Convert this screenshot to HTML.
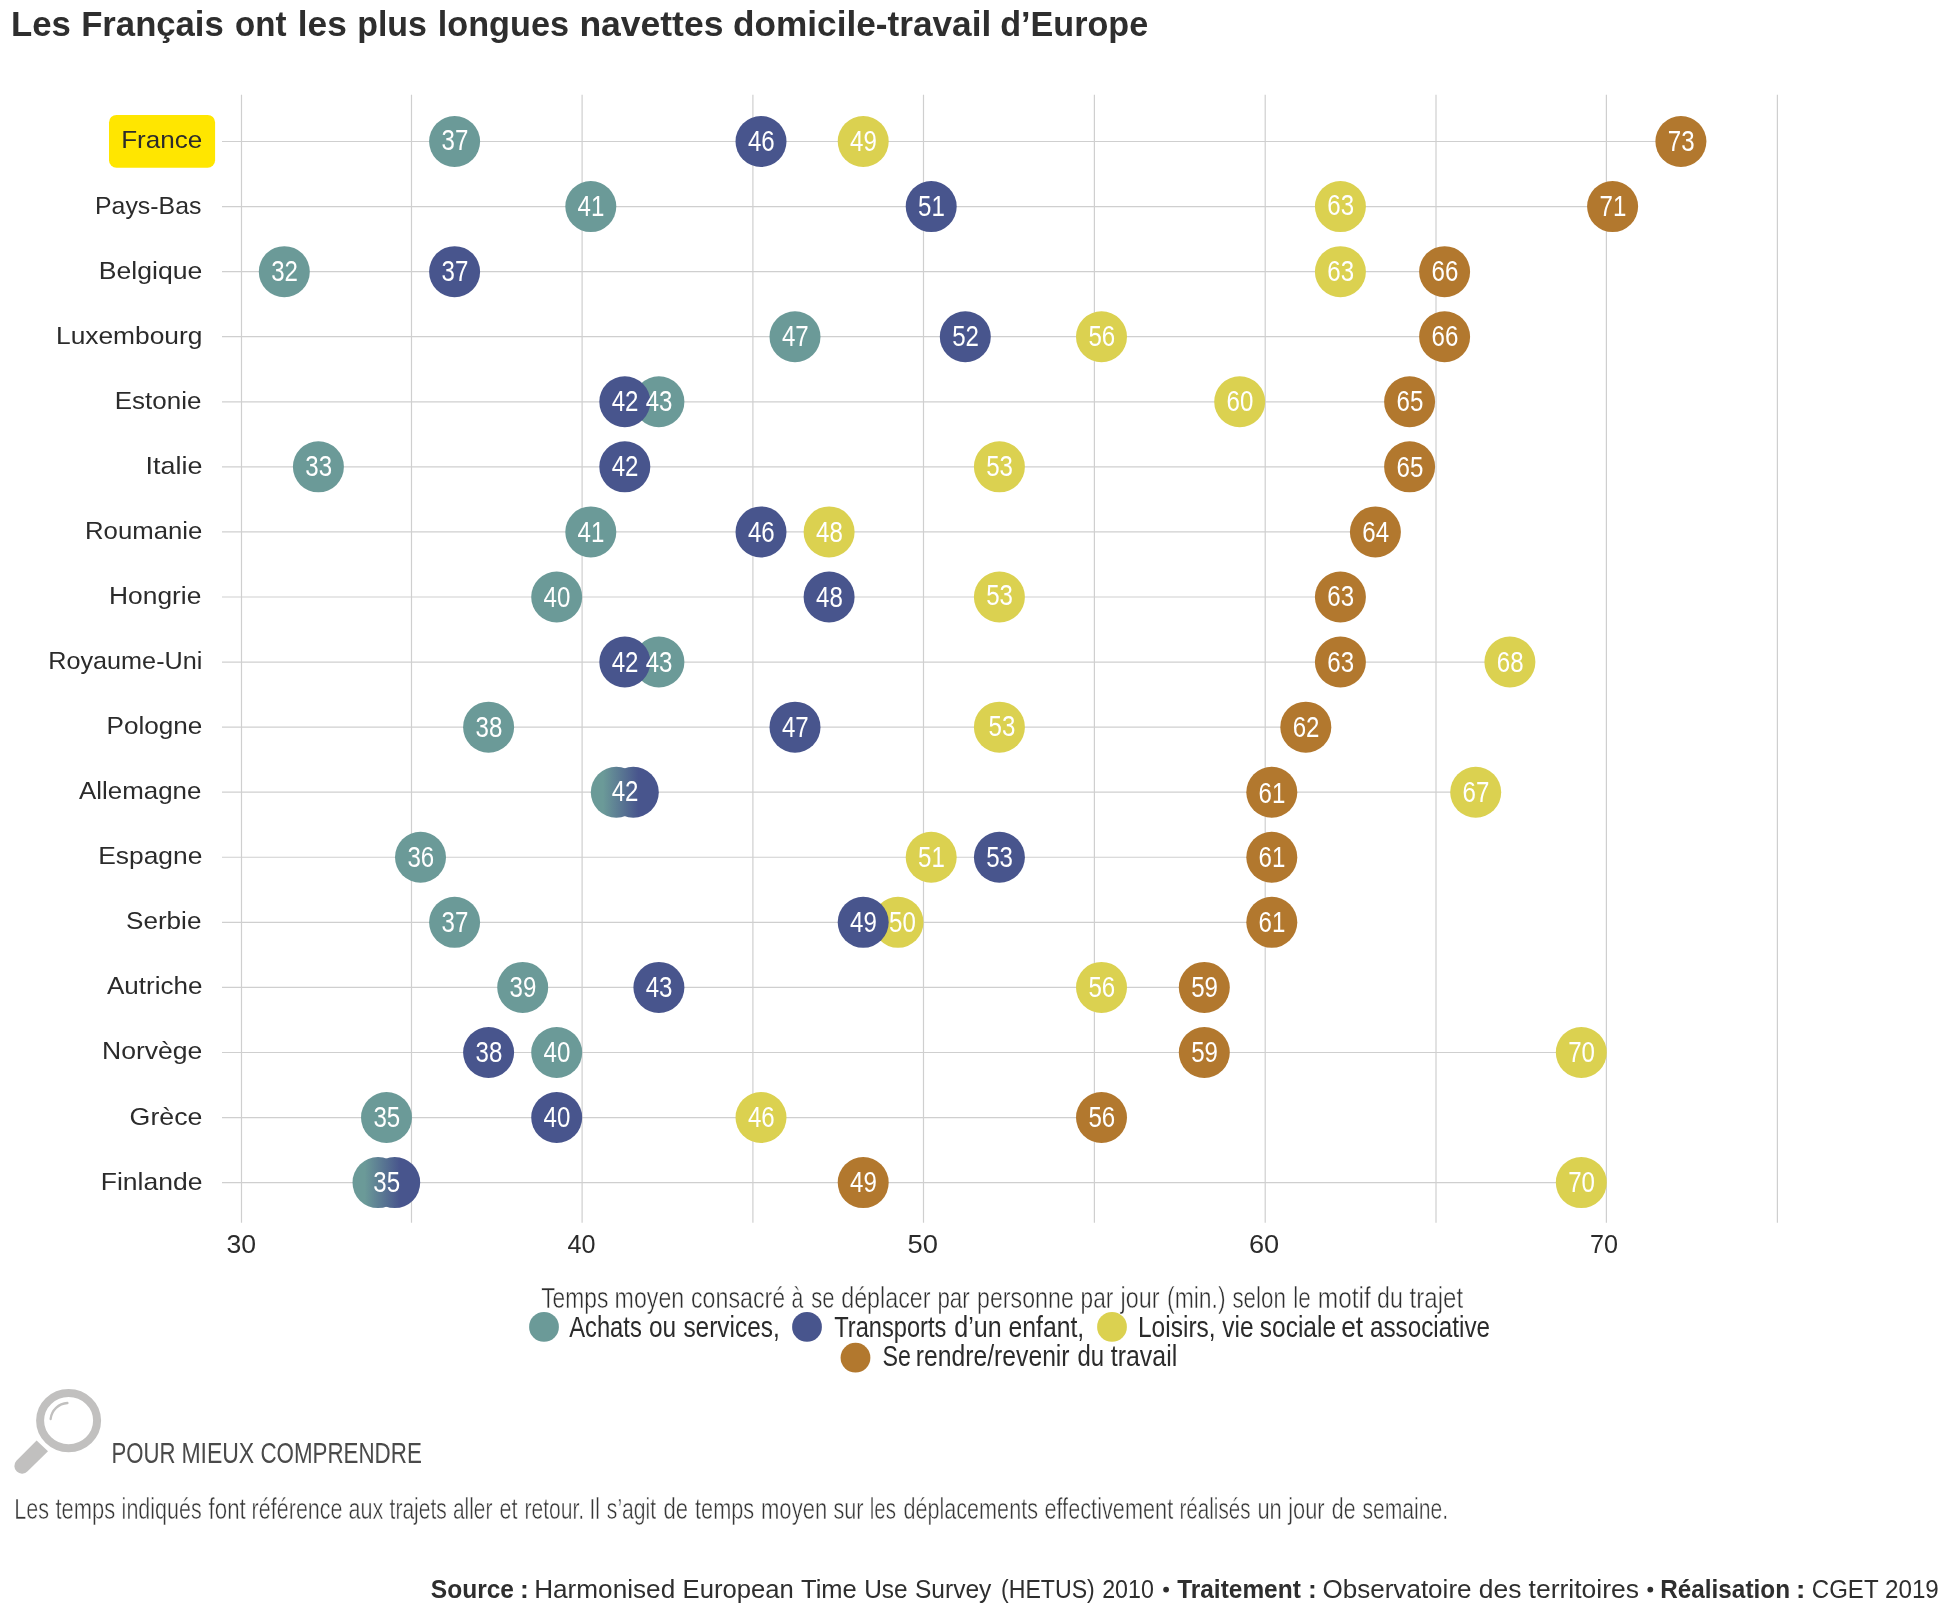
<!DOCTYPE html>
<html lang="fr"><head><meta charset="utf-8"><title>Navettes domicile-travail</title>
<style>html,body{margin:0;padding:0;background:#fff;}body{width:1949px;height:1607px;overflow:hidden;}svg{display:block;will-change:transform;}text{font-family:"Liberation Sans", sans-serif;}</style></head><body>
<svg width="1949" height="1607" viewBox="0 0 1949 1607">
<rect width="1949" height="1607" fill="#fff"/>
<g stroke="#cfcfcf" stroke-width="1.2">
<line x1="241.5" y1="94.8" x2="241.5" y2="1222.8"/>
<line x1="411.5" y1="94.8" x2="411.5" y2="1222.8"/>
<line x1="582.1" y1="94.8" x2="582.1" y2="1222.8"/>
<line x1="752.9" y1="94.8" x2="752.9" y2="1222.8"/>
<line x1="923.5" y1="94.8" x2="923.5" y2="1222.8"/>
<line x1="1094.4" y1="94.8" x2="1094.4" y2="1222.8"/>
<line x1="1265.2" y1="94.8" x2="1265.2" y2="1222.8"/>
<line x1="1436.0" y1="94.8" x2="1436.0" y2="1222.8"/>
<line x1="1606.4" y1="94.8" x2="1606.4" y2="1222.8"/>
<line x1="1777.4" y1="94.8" x2="1777.4" y2="1222.8"/>
<line x1="222.0" y1="141.50" x2="1680.9" y2="141.50"/>
<line x1="222.0" y1="206.57" x2="1612.6" y2="206.57"/>
<line x1="222.0" y1="271.64" x2="1444.6" y2="271.64"/>
<line x1="222.0" y1="336.71" x2="1444.6" y2="336.71"/>
<line x1="222.0" y1="401.78" x2="1409.6" y2="401.78"/>
<line x1="222.0" y1="466.85" x2="1409.6" y2="466.85"/>
<line x1="222.0" y1="531.92" x2="1375.4" y2="531.92"/>
<line x1="222.0" y1="596.99" x2="1340.4" y2="596.99"/>
<line x1="222.0" y1="662.06" x2="1509.9" y2="662.06"/>
<line x1="222.0" y1="727.13" x2="1305.8" y2="727.13"/>
<line x1="222.0" y1="792.20" x2="1475.7" y2="792.20"/>
<line x1="222.0" y1="857.27" x2="1271.8" y2="857.27"/>
<line x1="222.0" y1="922.34" x2="1271.8" y2="922.34"/>
<line x1="222.0" y1="987.41" x2="1204.3" y2="987.41"/>
<line x1="222.0" y1="1052.48" x2="1581.3" y2="1052.48"/>
<line x1="222.0" y1="1117.55" x2="1101.5" y2="1117.55"/>
<line x1="222.0" y1="1182.62" x2="1581.3" y2="1182.62"/>
</g>
<rect x="109.0" y="114.9" width="106.1" height="52.8" rx="7.5" fill="#ffe600"/>
<circle cx="454.6" cy="141.50" r="25.5" fill="#6b9a98"/>
<circle cx="761.0" cy="141.50" r="25.5" fill="#48558d"/>
<circle cx="863.2" cy="141.50" r="25.5" fill="#dbd150"/>
<circle cx="1680.9" cy="141.50" r="25.5" fill="#b2782e"/>
<circle cx="590.8" cy="206.57" r="25.5" fill="#6b9a98"/>
<circle cx="931.2" cy="206.57" r="25.5" fill="#48558d"/>
<circle cx="1340.4" cy="206.57" r="25.5" fill="#dbd150"/>
<circle cx="1612.6" cy="206.57" r="25.5" fill="#b2782e"/>
<circle cx="284.3" cy="271.64" r="25.5" fill="#6b9a98"/>
<circle cx="454.6" cy="271.64" r="25.5" fill="#48558d"/>
<circle cx="1340.4" cy="271.64" r="25.5" fill="#dbd150"/>
<circle cx="1444.6" cy="271.64" r="25.5" fill="#b2782e"/>
<circle cx="795.0" cy="336.71" r="25.5" fill="#6b9a98"/>
<circle cx="965.3" cy="336.71" r="25.5" fill="#48558d"/>
<circle cx="1101.5" cy="336.71" r="25.5" fill="#dbd150"/>
<circle cx="1444.6" cy="336.71" r="25.5" fill="#b2782e"/>
<circle cx="658.9" cy="401.78" r="25.5" fill="#6b9a98"/>
<circle cx="624.8" cy="401.78" r="25.5" fill="#48558d"/>
<circle cx="1239.7" cy="401.78" r="25.5" fill="#dbd150"/>
<circle cx="1409.6" cy="401.78" r="25.5" fill="#b2782e"/>
<circle cx="318.4" cy="466.85" r="25.5" fill="#6b9a98"/>
<circle cx="624.8" cy="466.85" r="25.5" fill="#48558d"/>
<circle cx="999.4" cy="466.85" r="25.5" fill="#dbd150"/>
<circle cx="1409.6" cy="466.85" r="25.5" fill="#b2782e"/>
<circle cx="590.8" cy="531.92" r="25.5" fill="#6b9a98"/>
<circle cx="761.0" cy="531.92" r="25.5" fill="#48558d"/>
<circle cx="829.1" cy="531.92" r="25.5" fill="#dbd150"/>
<circle cx="1375.4" cy="531.92" r="25.5" fill="#b2782e"/>
<circle cx="556.7" cy="596.99" r="25.5" fill="#6b9a98"/>
<circle cx="829.1" cy="596.99" r="25.5" fill="#48558d"/>
<circle cx="999.4" cy="596.99" r="25.5" fill="#dbd150"/>
<circle cx="1340.4" cy="596.99" r="25.5" fill="#b2782e"/>
<circle cx="658.9" cy="662.06" r="25.5" fill="#6b9a98"/>
<circle cx="624.8" cy="662.06" r="25.5" fill="#48558d"/>
<circle cx="1509.9" cy="662.06" r="25.5" fill="#dbd150"/>
<circle cx="1340.4" cy="662.06" r="25.5" fill="#b2782e"/>
<circle cx="488.6" cy="727.13" r="25.5" fill="#6b9a98"/>
<circle cx="795.0" cy="727.13" r="25.5" fill="#48558d"/>
<circle cx="999.4" cy="727.13" r="25.5" fill="#dbd150"/>
<circle cx="1305.8" cy="727.13" r="25.5" fill="#b2782e"/>
<linearGradient id="pg10" gradientUnits="userSpaceOnUse" x1="590.8" y1="0" x2="658.8" y2="0"><stop offset="0.18" stop-color="#6b9a98"/><stop offset="0.70" stop-color="#48558d"/></linearGradient>
<circle cx="616.3" cy="792.20" r="25.5" fill="url(#pg10)"/>
<circle cx="633.3" cy="792.20" r="25.5" fill="url(#pg10)"/>
<circle cx="1475.7" cy="792.20" r="25.5" fill="#dbd150"/>
<circle cx="1271.8" cy="792.20" r="25.5" fill="#b2782e"/>
<circle cx="420.5" cy="857.27" r="25.5" fill="#6b9a98"/>
<circle cx="999.4" cy="857.27" r="25.5" fill="#48558d"/>
<circle cx="931.2" cy="857.27" r="25.5" fill="#dbd150"/>
<circle cx="1271.8" cy="857.27" r="25.5" fill="#b2782e"/>
<circle cx="454.6" cy="922.34" r="25.5" fill="#6b9a98"/>
<circle cx="898.0" cy="922.34" r="25.5" fill="#dbd150"/>
<circle cx="863.2" cy="922.34" r="25.5" fill="#48558d"/>
<circle cx="1271.8" cy="922.34" r="25.5" fill="#b2782e"/>
<circle cx="522.7" cy="987.41" r="25.5" fill="#6b9a98"/>
<circle cx="658.9" cy="987.41" r="25.5" fill="#48558d"/>
<circle cx="1101.5" cy="987.41" r="25.5" fill="#dbd150"/>
<circle cx="1204.3" cy="987.41" r="25.5" fill="#b2782e"/>
<circle cx="556.7" cy="1052.48" r="25.5" fill="#6b9a98"/>
<circle cx="488.6" cy="1052.48" r="25.5" fill="#48558d"/>
<circle cx="1581.3" cy="1052.48" r="25.5" fill="#dbd150"/>
<circle cx="1204.3" cy="1052.48" r="25.5" fill="#b2782e"/>
<circle cx="386.5" cy="1117.55" r="25.5" fill="#6b9a98"/>
<circle cx="556.7" cy="1117.55" r="25.5" fill="#48558d"/>
<circle cx="761.0" cy="1117.55" r="25.5" fill="#dbd150"/>
<circle cx="1101.5" cy="1117.55" r="25.5" fill="#b2782e"/>
<linearGradient id="pg16" gradientUnits="userSpaceOnUse" x1="352.5" y1="0" x2="420.2" y2="0"><stop offset="0.18" stop-color="#6b9a98"/><stop offset="0.70" stop-color="#48558d"/></linearGradient>
<circle cx="378.0" cy="1182.62" r="25.5" fill="url(#pg16)"/>
<circle cx="394.7" cy="1182.62" r="25.5" fill="url(#pg16)"/>
<circle cx="1581.3" cy="1182.62" r="25.5" fill="#dbd150"/>
<circle cx="863.2" cy="1182.62" r="25.5" fill="#b2782e"/>
<g fill="#fff" font-size="30.3" text-anchor="middle">
<text transform="translate(454.9 150.15) scale(0.795 1)">37</text>
<text transform="translate(761.3 151.10) scale(0.795 1)">46</text>
<text transform="translate(863.5 151.10) scale(0.795 1)">49</text>
<text transform="translate(1681.2 151.10) scale(0.795 1)">73</text>
<text transform="translate(591.0 216.17) scale(0.795 1)">41</text>
<text transform="translate(931.5 216.17) scale(0.795 1)">51</text>
<text transform="translate(1340.7 215.37) scale(0.795 1)">63</text>
<text transform="translate(1612.9 216.17) scale(0.795 1)">71</text>
<text transform="translate(284.6 281.24) scale(0.795 1)">32</text>
<text transform="translate(454.9 281.24) scale(0.795 1)">37</text>
<text transform="translate(1340.7 280.54) scale(0.795 1)">63</text>
<text transform="translate(1444.9 281.24) scale(0.795 1)">66</text>
<text transform="translate(795.3 346.31) scale(0.795 1)">47</text>
<text transform="translate(965.6 346.31) scale(0.795 1)">52</text>
<text transform="translate(1101.8 346.31) scale(0.795 1)">56</text>
<text transform="translate(1444.9 346.31) scale(0.795 1)">66</text>
<text transform="translate(659.1 411.15) scale(0.795 1)">43</text>
<text transform="translate(625.1 411.15) scale(0.795 1)">42</text>
<text transform="translate(1240.0 411.38) scale(0.795 1)">60</text>
<text transform="translate(1409.9 411.38) scale(0.795 1)">65</text>
<text transform="translate(318.7 476.45) scale(0.795 1)">33</text>
<text transform="translate(625.1 476.45) scale(0.795 1)">42</text>
<text transform="translate(999.6 476.45) scale(0.795 1)">53</text>
<text transform="translate(1409.9 477.25) scale(0.795 1)">65</text>
<text transform="translate(591.0 541.52) scale(0.795 1)">41</text>
<text transform="translate(761.3 541.52) scale(0.795 1)">46</text>
<text transform="translate(829.4 541.52) scale(0.795 1)">48</text>
<text transform="translate(1375.7 542.27) scale(0.795 1)">64</text>
<text transform="translate(557.0 606.59) scale(0.795 1)">40</text>
<text transform="translate(829.4 606.59) scale(0.795 1)">48</text>
<text transform="translate(999.6 605.49) scale(0.795 1)">53</text>
<text transform="translate(1340.7 606.19) scale(0.795 1)">63</text>
<text transform="translate(659.1 671.66) scale(0.795 1)">43</text>
<text transform="translate(625.1 671.66) scale(0.795 1)">42</text>
<text transform="translate(1510.2 671.66) scale(0.795 1)">68</text>
<text transform="translate(1340.7 672.36) scale(0.795 1)">63</text>
<text transform="translate(488.9 736.73) scale(0.795 1)">38</text>
<text transform="translate(795.3 736.73) scale(0.795 1)">47</text>
<text transform="translate(1002.0 735.98) scale(0.795 1)">53</text>
<text transform="translate(1306.1 736.53) scale(0.795 1)">62</text>
<text transform="translate(625.1 801.20) scale(0.795 1)">42</text>
<text transform="translate(1476.0 801.80) scale(0.795 1)">67</text>
<text transform="translate(1272.0 802.60) scale(0.795 1)">61</text>
<text transform="translate(420.8 866.87) scale(0.795 1)">36</text>
<text transform="translate(999.6 866.87) scale(0.795 1)">53</text>
<text transform="translate(931.5 866.87) scale(0.795 1)">51</text>
<text transform="translate(1272.0 866.87) scale(0.795 1)">61</text>
<text transform="translate(454.9 931.94) scale(0.795 1)">37</text>
<text transform="translate(902.5 931.94) scale(0.795 1)">50</text>
<text transform="translate(863.5 932.39) scale(0.795 1)">49</text>
<text transform="translate(1272.0 931.94) scale(0.795 1)">61</text>
<text transform="translate(523.0 997.01) scale(0.795 1)">39</text>
<text transform="translate(659.1 997.01) scale(0.795 1)">43</text>
<text transform="translate(1101.8 997.01) scale(0.795 1)">56</text>
<text transform="translate(1204.6 997.01) scale(0.795 1)">59</text>
<text transform="translate(557.0 1062.08) scale(0.795 1)">40</text>
<text transform="translate(488.9 1062.08) scale(0.795 1)">38</text>
<text transform="translate(1581.6 1062.08) scale(0.795 1)">70</text>
<text transform="translate(1204.6 1062.08) scale(0.795 1)">59</text>
<text transform="translate(386.8 1127.15) scale(0.795 1)">35</text>
<text transform="translate(557.0 1127.15) scale(0.795 1)">40</text>
<text transform="translate(761.3 1127.15) scale(0.795 1)">46</text>
<text transform="translate(1101.8 1127.15) scale(0.795 1)">56</text>
<text transform="translate(386.7 1192.22) scale(0.795 1)">35</text>
<text transform="translate(1581.6 1192.22) scale(0.795 1)">70</text>
<text transform="translate(863.5 1192.22) scale(0.795 1)">49</text>
</g>
<circle cx="544.0" cy="1326.9" r="14.9" fill="#6b9a98"/>
<circle cx="807.0" cy="1326.9" r="14.9" fill="#48558d"/>
<circle cx="1112.0" cy="1326.9" r="14.9" fill="#dbd150"/>
<circle cx="855.5" cy="1357.7" r="14.9" fill="#b2782e"/>
<g fill="none" stroke="#c1c0bf">
<ellipse cx="68.6" cy="1420.6" rx="28.5" ry="27.6" stroke-width="8"/>
<path d="M50.6 1419.0 A18 18 0 0 1 67.4 1403.0" stroke-width="2.3" stroke-linecap="round"/>
</g>
<path d="M36.6 1440.6 L48.0 1451.2 L27.6 1471.2 A6.9 6.9 0 0 1 16.4 1460.8 Z" fill="#c1c0bf"/>
<circle cx="1166.1" cy="1589.6" r="2.9" fill="#2e2e2e"/>
<circle cx="1650.3" cy="1589.6" r="2.9" fill="#2e2e2e"/>
<text x="11.00" y="36.0" font-size="34.6" fill="#2e2e2e" font-weight="bold" textLength="59.80" lengthAdjust="spacingAndGlyphs">Les</text>
<text x="81.20" y="36.0" font-size="34.6" fill="#2e2e2e" font-weight="bold" textLength="142.60" lengthAdjust="spacingAndGlyphs">Français</text>
<text x="235.00" y="36.0" font-size="34.6" fill="#2e2e2e" font-weight="bold" textLength="51.40" lengthAdjust="spacingAndGlyphs">ont</text>
<text x="297.80" y="36.0" font-size="34.6" fill="#2e2e2e" font-weight="bold" textLength="49.00" lengthAdjust="spacingAndGlyphs">les</text>
<text x="357.20" y="36.0" font-size="34.6" fill="#2e2e2e" font-weight="bold" textLength="69.80" lengthAdjust="spacingAndGlyphs">plus</text>
<text x="437.80" y="36.0" font-size="34.6" fill="#2e2e2e" font-weight="bold" textLength="131.20" lengthAdjust="spacingAndGlyphs">longues</text>
<text x="579.40" y="36.0" font-size="34.6" fill="#2e2e2e" font-weight="bold" textLength="144.00" lengthAdjust="spacingAndGlyphs">navettes</text>
<text x="733.00" y="36.0" font-size="34.6" fill="#2e2e2e" font-weight="bold" textLength="258.20" lengthAdjust="spacingAndGlyphs">domicile-travail</text>
<text x="1000.20" y="36.0" font-size="34.6" fill="#2e2e2e" font-weight="bold" textLength="148.00" lengthAdjust="spacingAndGlyphs">d’Europe</text>
<text x="121.20" y="148.4" font-size="24.6" fill="#2b2b2b" textLength="81.20" lengthAdjust="spacingAndGlyphs">France</text>
<text x="95.00" y="213.5" font-size="24.6" fill="#2b2b2b" textLength="106.40" lengthAdjust="spacingAndGlyphs">Pays-Bas</text>
<text x="98.80" y="278.5" font-size="24.6" fill="#2b2b2b" textLength="103.60" lengthAdjust="spacingAndGlyphs">Belgique</text>
<text x="56.00" y="343.6" font-size="24.6" fill="#2b2b2b" textLength="146.40" lengthAdjust="spacingAndGlyphs">Luxembourg</text>
<text x="114.80" y="408.7" font-size="24.6" fill="#2b2b2b" textLength="86.60" lengthAdjust="spacingAndGlyphs">Estonie</text>
<text x="145.60" y="473.7" font-size="24.6" fill="#2b2b2b" textLength="56.80" lengthAdjust="spacingAndGlyphs">Italie</text>
<text x="85.00" y="538.8" font-size="24.6" fill="#2b2b2b" textLength="117.40" lengthAdjust="spacingAndGlyphs">Roumanie</text>
<text x="109.00" y="603.9" font-size="24.6" fill="#2b2b2b" textLength="92.40" lengthAdjust="spacingAndGlyphs">Hongrie</text>
<text x="48.20" y="669.0" font-size="24.6" fill="#2b2b2b" textLength="154.20" lengthAdjust="spacingAndGlyphs">Royaume-Uni</text>
<text x="106.60" y="734.0" font-size="24.6" fill="#2b2b2b" textLength="95.80" lengthAdjust="spacingAndGlyphs">Pologne</text>
<text x="79.00" y="799.1" font-size="24.6" fill="#2b2b2b" textLength="122.40" lengthAdjust="spacingAndGlyphs">Allemagne</text>
<text x="98.20" y="864.2" font-size="24.6" fill="#2b2b2b" textLength="104.20" lengthAdjust="spacingAndGlyphs">Espagne</text>
<text x="126.00" y="929.2" font-size="24.6" fill="#2b2b2b" textLength="75.40" lengthAdjust="spacingAndGlyphs">Serbie</text>
<text x="107.00" y="994.3" font-size="24.6" fill="#2b2b2b" textLength="95.40" lengthAdjust="spacingAndGlyphs">Autriche</text>
<text x="102.00" y="1059.4" font-size="24.6" fill="#2b2b2b" textLength="100.40" lengthAdjust="spacingAndGlyphs">Norvège</text>
<text x="129.60" y="1124.5" font-size="24.6" fill="#2b2b2b" textLength="72.80" lengthAdjust="spacingAndGlyphs">Grèce</text>
<text x="100.80" y="1189.5" font-size="24.6" fill="#2b2b2b" textLength="101.60" lengthAdjust="spacingAndGlyphs">Finlande</text>
<text x="226.40" y="1253.2" font-size="25.4" fill="#2b2b2b" textLength="29.60" lengthAdjust="spacingAndGlyphs">30</text>
<text x="567.60" y="1253.2" font-size="25.4" fill="#2b2b2b" textLength="28.00" lengthAdjust="spacingAndGlyphs">40</text>
<text x="907.60" y="1253.2" font-size="25.4" fill="#2b2b2b" textLength="30.40" lengthAdjust="spacingAndGlyphs">50</text>
<text x="1249.00" y="1253.2" font-size="25.4" fill="#2b2b2b" textLength="30.20" lengthAdjust="spacingAndGlyphs">60</text>
<text x="1590.00" y="1253.2" font-size="25.4" fill="#2b2b2b" textLength="28.00" lengthAdjust="spacingAndGlyphs">70</text>
<text x="541.20" y="1308.0" font-size="30.4" fill="#2e2e2e" textLength="67.20" lengthAdjust="spacingAndGlyphs" stroke="#fff" stroke-width="0.5">Temps</text>
<text x="614.60" y="1308.0" font-size="30.4" fill="#2e2e2e" textLength="69.60" lengthAdjust="spacingAndGlyphs" stroke="#fff" stroke-width="0.5">moyen</text>
<text x="691.00" y="1308.0" font-size="30.4" fill="#2e2e2e" textLength="94.20" lengthAdjust="spacingAndGlyphs" stroke="#fff" stroke-width="0.5">consacré</text>
<text x="791.60" y="1308.0" font-size="30.4" fill="#2e2e2e" textLength="11.80" lengthAdjust="spacingAndGlyphs" stroke="#fff" stroke-width="0.5">à</text>
<text x="811.20" y="1308.0" font-size="30.4" fill="#2e2e2e" textLength="23.40" lengthAdjust="spacingAndGlyphs" stroke="#fff" stroke-width="0.5">se</text>
<text x="841.20" y="1308.0" font-size="30.4" fill="#2e2e2e" textLength="89.40" lengthAdjust="spacingAndGlyphs" stroke="#fff" stroke-width="0.5">déplacer</text>
<text x="937.40" y="1308.0" font-size="30.4" fill="#2e2e2e" textLength="32.40" lengthAdjust="spacingAndGlyphs" stroke="#fff" stroke-width="0.5">par</text>
<text x="977.00" y="1308.0" font-size="30.4" fill="#2e2e2e" textLength="96.80" lengthAdjust="spacingAndGlyphs" stroke="#fff" stroke-width="0.5">personne</text>
<text x="1080.60" y="1308.0" font-size="30.4" fill="#2e2e2e" textLength="32.80" lengthAdjust="spacingAndGlyphs" stroke="#fff" stroke-width="0.5">par</text>
<text x="1120.60" y="1308.0" font-size="30.4" fill="#2e2e2e" textLength="39.00" lengthAdjust="spacingAndGlyphs" stroke="#fff" stroke-width="0.5">jour</text>
<text x="1167.00" y="1308.0" font-size="30.4" fill="#2e2e2e" textLength="58.60" lengthAdjust="spacingAndGlyphs" stroke="#fff" stroke-width="0.5">(min.)</text>
<text x="1232.40" y="1308.0" font-size="30.4" fill="#2e2e2e" textLength="53.60" lengthAdjust="spacingAndGlyphs" stroke="#fff" stroke-width="0.5">selon</text>
<text x="1293.20" y="1308.0" font-size="30.4" fill="#2e2e2e" textLength="17.60" lengthAdjust="spacingAndGlyphs" stroke="#fff" stroke-width="0.5">le</text>
<text x="1317.80" y="1308.0" font-size="30.4" fill="#2e2e2e" textLength="53.00" lengthAdjust="spacingAndGlyphs" stroke="#fff" stroke-width="0.5">motif</text>
<text x="1377.00" y="1308.0" font-size="30.4" fill="#2e2e2e" textLength="25.80" lengthAdjust="spacingAndGlyphs" stroke="#fff" stroke-width="0.5">du</text>
<text x="1409.60" y="1308.0" font-size="30.4" fill="#2e2e2e" textLength="53.60" lengthAdjust="spacingAndGlyphs" stroke="#fff" stroke-width="0.5">trajet</text>
<text x="569.20" y="1337.0" font-size="30.3" fill="#2b2b2b" textLength="72.60" lengthAdjust="spacingAndGlyphs">Achats</text>
<text x="649.00" y="1337.0" font-size="30.3" fill="#2b2b2b" textLength="27.20" lengthAdjust="spacingAndGlyphs">ou</text>
<text x="683.40" y="1337.0" font-size="30.3" fill="#2b2b2b" textLength="96.40" lengthAdjust="spacingAndGlyphs">services,</text>
<text x="834.20" y="1337.0" font-size="30.3" fill="#2b2b2b" textLength="112.20" lengthAdjust="spacingAndGlyphs">Transports</text>
<text x="954.20" y="1337.0" font-size="30.3" fill="#2b2b2b" textLength="47.40" lengthAdjust="spacingAndGlyphs">d’un</text>
<text x="1008.60" y="1337.0" font-size="30.3" fill="#2b2b2b" textLength="75.60" lengthAdjust="spacingAndGlyphs">enfant,</text>
<text x="1138.00" y="1337.0" font-size="30.3" fill="#2b2b2b" textLength="77.60" lengthAdjust="spacingAndGlyphs">Loisirs,</text>
<text x="1222.20" y="1337.0" font-size="30.3" fill="#2b2b2b" textLength="31.40" lengthAdjust="spacingAndGlyphs">vie</text>
<text x="1259.80" y="1337.0" font-size="30.3" fill="#2b2b2b" textLength="76.20" lengthAdjust="spacingAndGlyphs">sociale</text>
<text x="1341.20" y="1337.0" font-size="30.3" fill="#2b2b2b" textLength="22.00" lengthAdjust="spacingAndGlyphs">et</text>
<text x="1370.00" y="1337.0" font-size="30.3" fill="#2b2b2b" textLength="120.00" lengthAdjust="spacingAndGlyphs">associative</text>
<text x="882.40" y="1365.8" font-size="30.3" fill="#2b2b2b" textLength="28.40" lengthAdjust="spacingAndGlyphs">Se</text>
<text x="915.80" y="1365.8" font-size="30.3" fill="#2b2b2b" textLength="153.80" lengthAdjust="spacingAndGlyphs">rendre/revenir</text>
<text x="1077.40" y="1365.8" font-size="30.3" fill="#2b2b2b" textLength="26.60" lengthAdjust="spacingAndGlyphs">du</text>
<text x="1110.80" y="1365.8" font-size="30.3" fill="#2b2b2b" textLength="66.40" lengthAdjust="spacingAndGlyphs">travail</text>
<text x="111.60" y="1463.0" font-size="30.4" fill="#4a4a4a" textLength="64.00" lengthAdjust="spacingAndGlyphs">POUR</text>
<text x="181.40" y="1463.0" font-size="30.4" fill="#4a4a4a" textLength="72.80" lengthAdjust="spacingAndGlyphs">MIEUX</text>
<text x="260.40" y="1463.0" font-size="30.4" fill="#4a4a4a" textLength="161.40" lengthAdjust="spacingAndGlyphs">COMPRENDRE</text>
<text x="14.20" y="1519.0" font-size="30.0" fill="#363636" textLength="34.80" lengthAdjust="spacingAndGlyphs" stroke="#fff" stroke-width="0.5">Les</text>
<text x="55.40" y="1519.0" font-size="30.0" fill="#363636" textLength="59.80" lengthAdjust="spacingAndGlyphs" stroke="#fff" stroke-width="0.5">temps</text>
<text x="121.60" y="1519.0" font-size="30.0" fill="#363636" textLength="80.20" lengthAdjust="spacingAndGlyphs" stroke="#fff" stroke-width="0.5">indiqués</text>
<text x="208.60" y="1519.0" font-size="30.0" fill="#363636" textLength="37.20" lengthAdjust="spacingAndGlyphs" stroke="#fff" stroke-width="0.5">font</text>
<text x="251.60" y="1519.0" font-size="30.0" fill="#363636" textLength="91.00" lengthAdjust="spacingAndGlyphs" stroke="#fff" stroke-width="0.5">référence</text>
<text x="348.60" y="1519.0" font-size="30.0" fill="#363636" textLength="34.80" lengthAdjust="spacingAndGlyphs" stroke="#fff" stroke-width="0.5">aux</text>
<text x="389.60" y="1519.0" font-size="30.0" fill="#363636" textLength="57.20" lengthAdjust="spacingAndGlyphs" stroke="#fff" stroke-width="0.5">trajets</text>
<text x="453.00" y="1519.0" font-size="30.0" fill="#363636" textLength="39.40" lengthAdjust="spacingAndGlyphs" stroke="#fff" stroke-width="0.5">aller</text>
<text x="499.60" y="1519.0" font-size="30.0" fill="#363636" textLength="18.00" lengthAdjust="spacingAndGlyphs" stroke="#fff" stroke-width="0.5">et</text>
<text x="524.40" y="1519.0" font-size="30.0" fill="#363636" textLength="59.80" lengthAdjust="spacingAndGlyphs" stroke="#fff" stroke-width="0.5">retour.</text>
<text x="589.60" y="1519.0" font-size="30.0" fill="#363636" textLength="10.40" lengthAdjust="spacingAndGlyphs" stroke="#fff" stroke-width="0.5">Il</text>
<text x="606.80" y="1519.0" font-size="30.0" fill="#363636" textLength="49.40" lengthAdjust="spacingAndGlyphs" stroke="#fff" stroke-width="0.5">s’agit</text>
<text x="663.40" y="1519.0" font-size="30.0" fill="#363636" textLength="24.60" lengthAdjust="spacingAndGlyphs" stroke="#fff" stroke-width="0.5">de</text>
<text x="695.00" y="1519.0" font-size="30.0" fill="#363636" textLength="59.20" lengthAdjust="spacingAndGlyphs" stroke="#fff" stroke-width="0.5">temps</text>
<text x="761.00" y="1519.0" font-size="30.0" fill="#363636" textLength="66.20" lengthAdjust="spacingAndGlyphs" stroke="#fff" stroke-width="0.5">moyen</text>
<text x="833.40" y="1519.0" font-size="30.0" fill="#363636" textLength="30.20" lengthAdjust="spacingAndGlyphs" stroke="#fff" stroke-width="0.5">sur</text>
<text x="869.80" y="1519.0" font-size="30.0" fill="#363636" textLength="26.20" lengthAdjust="spacingAndGlyphs" stroke="#fff" stroke-width="0.5">les</text>
<text x="903.40" y="1519.0" font-size="30.0" fill="#363636" textLength="134.60" lengthAdjust="spacingAndGlyphs" stroke="#fff" stroke-width="0.5">déplacements</text>
<text x="1044.40" y="1519.0" font-size="30.0" fill="#363636" textLength="128.80" lengthAdjust="spacingAndGlyphs" stroke="#fff" stroke-width="0.5">effectivement</text>
<text x="1179.40" y="1519.0" font-size="30.0" fill="#363636" textLength="71.20" lengthAdjust="spacingAndGlyphs" stroke="#fff" stroke-width="0.5">réalisés</text>
<text x="1257.40" y="1519.0" font-size="30.0" fill="#363636" textLength="24.40" lengthAdjust="spacingAndGlyphs" stroke="#fff" stroke-width="0.5">un</text>
<text x="1288.20" y="1519.0" font-size="30.0" fill="#363636" textLength="36.40" lengthAdjust="spacingAndGlyphs" stroke="#fff" stroke-width="0.5">jour</text>
<text x="1331.80" y="1519.0" font-size="30.0" fill="#363636" textLength="23.80" lengthAdjust="spacingAndGlyphs" stroke="#fff" stroke-width="0.5">de</text>
<text x="1362.40" y="1519.0" font-size="30.0" fill="#363636" textLength="85.80" lengthAdjust="spacingAndGlyphs" stroke="#fff" stroke-width="0.5">semaine.</text>
<text x="430.80" y="1597.7" font-size="25.2" fill="#2e2e2e" font-weight="bold" textLength="83.20" lengthAdjust="spacingAndGlyphs">Source</text>
<text x="520.00" y="1597.7" font-size="25.2" fill="#2e2e2e" font-weight="bold" textLength="8.80" lengthAdjust="spacingAndGlyphs">:</text>
<text x="534.20" y="1597.7" font-size="25.2" fill="#2e2e2e" textLength="141.00" lengthAdjust="spacingAndGlyphs">Harmonised</text>
<text x="682.60" y="1597.7" font-size="25.2" fill="#2e2e2e" textLength="111.20" lengthAdjust="spacingAndGlyphs">European</text>
<text x="801.00" y="1597.7" font-size="25.2" fill="#2e2e2e" textLength="55.80" lengthAdjust="spacingAndGlyphs">Time</text>
<text x="864.20" y="1597.7" font-size="25.2" fill="#2e2e2e" textLength="43.40" lengthAdjust="spacingAndGlyphs">Use</text>
<text x="915.00" y="1597.7" font-size="25.2" fill="#2e2e2e" textLength="76.40" lengthAdjust="spacingAndGlyphs">Survey</text>
<text x="1001.00" y="1597.7" font-size="25.2" fill="#2e2e2e" textLength="93.80" lengthAdjust="spacingAndGlyphs">(HETUS)</text>
<text x="1102.20" y="1597.7" font-size="25.2" fill="#2e2e2e" textLength="51.60" lengthAdjust="spacingAndGlyphs">2010</text>
<text x="1177.20" y="1597.7" font-size="25.2" fill="#2e2e2e" font-weight="bold" textLength="123.60" lengthAdjust="spacingAndGlyphs">Traitement</text>
<text x="1308.00" y="1597.7" font-size="25.2" fill="#2e2e2e" font-weight="bold" textLength="8.80" lengthAdjust="spacingAndGlyphs">:</text>
<text x="1322.40" y="1597.7" font-size="25.2" fill="#2e2e2e" textLength="149.20" lengthAdjust="spacingAndGlyphs">Observatoire</text>
<text x="1478.80" y="1597.7" font-size="25.2" fill="#2e2e2e" textLength="42.60" lengthAdjust="spacingAndGlyphs">des</text>
<text x="1528.60" y="1597.7" font-size="25.2" fill="#2e2e2e" textLength="110.40" lengthAdjust="spacingAndGlyphs">territoires</text>
<text x="1660.20" y="1597.7" font-size="25.2" fill="#2e2e2e" font-weight="bold" textLength="129.80" lengthAdjust="spacingAndGlyphs">Réalisation</text>
<text x="1795.80" y="1597.7" font-size="25.2" fill="#2e2e2e" font-weight="bold" textLength="9.80" lengthAdjust="spacingAndGlyphs">:</text>
<text x="1811.80" y="1597.7" font-size="25.2" fill="#2e2e2e" textLength="66.80" lengthAdjust="spacingAndGlyphs">CGET</text>
<text x="1885.00" y="1597.7" font-size="25.2" fill="#2e2e2e" textLength="53.80" lengthAdjust="spacingAndGlyphs">2019</text>
</svg></body></html>
